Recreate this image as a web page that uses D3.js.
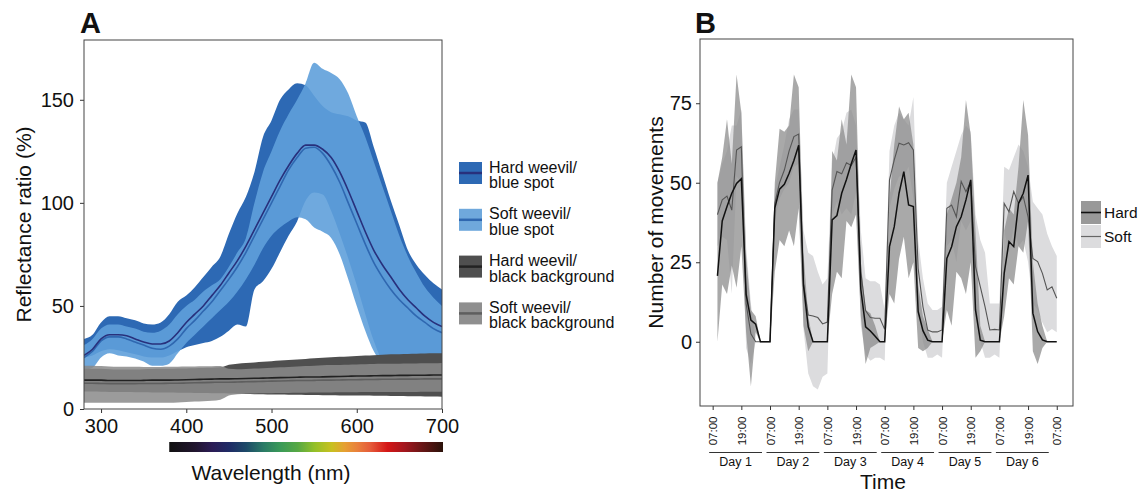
<!DOCTYPE html>
<html>
<head>
<meta charset="utf-8">
<script src="https://cdn.jsdelivr.net/npm/d3@7"></script>
<style>
  body { margin: 0; background: white; }
  text { font-family: "Liberation Sans", Arial, sans-serif; fill: #111; }
</style>
</head>
<body>
<script>
// ---------- panel A data: reflectance ratio (%) every 10 nm ----------
const wavelength = d3.range(280, 701, 10)

const hardBlueMean = [26, 29, 34, 36, 36, 35.5, 34, 32.5, 31.5, 31.5, 33, 37, 42, 46, 50, 55, 60, 66, 72, 79, 87, 95, 103, 111, 118, 124, 128, 128, 126, 122, 115, 106, 96, 86, 77, 70, 64, 58, 53, 49, 45, 42, 40]
const hardBlueHi   = [34, 36, 42, 45, 45, 44, 43, 41.5, 41, 42, 46, 52, 55, 59, 64, 69, 74, 85, 95, 103, 115, 132, 140, 150, 155, 158, 157, 152, 147, 144, 143, 142, 140, 139, 127, 114, 101, 89, 77, 70, 65, 61, 58]
const hardBlueLo   = [25, 26, 28, 29, 28.5, 27.5, 26.5, 25.5, 25, 25, 26, 28, 30, 31, 32, 33, 35, 38, 41, 40, 58, 62, 68, 76, 84, 91, 101, 105, 104, 96, 85, 73, 60, 46, 33, 24, 22, 21, 21, 21, 21, 21, 21]
const softBlueMean = [25, 28, 33, 35, 35, 34, 32.5, 31, 29.5, 29, 30.5, 34, 39, 43, 47.5, 52, 57.5, 63, 69, 76, 84, 92, 100, 108, 116, 122, 126.5, 127, 124, 118, 110, 100, 90, 80, 71, 64, 58, 53, 49, 45, 42, 39, 37]
const softBlueHi   = [31, 34, 39, 41, 41, 40, 39, 37.5, 37, 38, 41, 46, 50, 53, 57, 60, 63, 69, 76, 83, 100, 115, 125, 135, 143, 150, 158, 168, 165, 163, 160, 153, 142, 132, 120, 108, 96, 84, 74, 66, 59, 54, 50]
const softBlueLo   = [19, 20, 25, 27, 26, 25.5, 24.5, 23, 21, 21, 22, 27, 32, 36, 40, 44, 48, 52, 57, 63, 70, 78, 84, 88, 91, 93, 92, 88, 86, 83, 75, 63, 50, 38, 28, 22, 20, 20, 20, 20, 20, 20, 20]

const hardBlackMean = [14, 14, 14, 13.8, 13.8, 13.8, 13.8, 13.9, 14, 14, 14, 14.1, 14.2, 14.3, 14.4, 14.5, 14.6, 14.6, 14.7, 14.8, 14.9, 15, 15.1, 15.2, 15.3, 15.4, 15.5, 15.5, 15.6, 15.7, 15.8, 15.9, 16, 16, 16.1, 16.2, 16.2, 16.3, 16.3, 16.4, 16.4, 16.5, 16.5]
const hardBlackHi   = [19.5, 19.5, 19.5, 19.3, 19.2, 19.2, 19.2, 19.3, 19.4, 19.5, 19.5, 19.6, 19.7, 19.8, 19.9, 20, 20.2, 21.5, 22, 22.3, 22.6, 22.9, 23.2, 23.5, 23.8, 24, 24.3, 24.6, 24.9, 25.1, 25.3, 25.5, 25.7, 25.9, 26.1, 26.3, 26.5, 26.6, 26.7, 26.8, 26.9, 27, 27]
const hardBlackLo   = [8.5, 8.5, 8.4, 8.3, 8.2, 8.2, 8.1, 8.1, 8, 8, 8, 7.9, 7.9, 7.8, 7.8, 7.7, 7.6, 7.5, 7.4, 7.3, 7.2, 7.1, 7, 7, 6.9, 6.9, 6.8, 6.8, 6.7, 6.7, 6.6, 6.6, 6.5, 6.5, 6.4, 6.4, 6.3, 6.3, 6.2, 6.2, 6.1, 6.1, 6]
const softBlackMean = [12.5, 12.5, 12.4, 12.3, 12.3, 12.3, 12.3, 12.4, 12.4, 12.4, 12.5, 12.5, 12.6, 12.7, 12.8, 12.9, 13, 13, 13.1, 13.2, 13.3, 13.4, 13.5, 13.6, 13.7, 13.8, 13.8, 13.9, 14, 14, 14.1, 14.2, 14.2, 14.3, 14.3, 14.4, 14.4, 14.5, 14.5, 14.5, 14.6, 14.6, 14.6]
const softBlackHi   = [21, 21, 20.8, 20.6, 20.5, 20.5, 20.5, 20.4, 20.4, 20.4, 20.5, 20.5, 20.6, 20.6, 20.7, 20.7, 20.8, 19.5, 19.3, 19.4, 19.6, 19.8, 20, 20.2, 20.4, 20.6, 20.8, 21, 21.2, 21.3, 21.4, 21.5, 21.6, 21.7, 21.8, 21.9, 22, 22, 22.1, 22.1, 22.2, 22.2, 22.3]
const softBlackLo   = [3, 3, 3, 3, 3, 3, 3, 3, 3, 3, 3, 3.2, 3.4, 3.6, 3.8, 4, 4.5, 6.5, 7.2, 7.4, 7.5, 7.6, 7.7, 7.8, 7.8, 7.9, 7.9, 8, 8, 8, 8.1, 8.1, 8.1, 8.2, 8.2, 8.2, 8.3, 8.3, 8.3, 8.3, 8.4, 8.4, 8.4]

const legendA = ["Hard weevil/|blue spot", "Soft weevil/|blue spot", "Hard weevil/|black background", "Soft weevil/|black background"]

// ---------- panel B data: movements every 2 h from 09:00 day 1 ----------
const hours = d3.range(2, 145, 2)
const hardMove = [20.7, 38, 42.5, 46.7, 49.8, 51.3, 15, 6.8, 5.5, 0, 0, 0,
                  42, 48, 49.5, 53, 57, 61.8, 17.8, 4.7, 0, 0, 0, 0,
                  38.3, 39.7, 46.7, 51, 56, 60.3, 16.5, 4.7, 3.4, 1.7, 0, 0,
                  29.9, 36.2, 46.7, 53.5, 43, 42.5, 9.5, 3.5, 0.5, 0, 0, 0,
                  26.2, 29.9, 36.2, 39.3, 44.6, 50.9, 10, 0.5, 0, 0, 0, 0,
                  21.5, 31.5, 29.9, 43.5, 46.7, 52.4, 9, 3.2, 0.6, 0, 0, 0]
const hardHi = [50, 58, 70, 56, 84, 72, 27, 10, 8, 0, 0, 0,
                50, 67, 66, 68, 84, 80, 28, 8, 0, 0, 0, 0,
                60, 57, 70, 62, 84, 80, 25, 10, 9, 5, 0, 0,
                45, 62, 74, 70, 72, 62, 18, 8, 4, 0, 0, 0,
                40, 45, 50, 58, 76, 65, 35, 5, 0, 0, 0, 0,
                35, 42, 40, 55, 76, 65, 25, 12, 5, 0, 0, 0]
const hardLo = [0, 18, 15, 24, 17, 30, 3, -14, 3, 0, 0, 0,
                22, 32, 30, 35, 30, 42, 5, -3, 0, 0, 0, 0,
                15, 22, 20, 38, 36, 40, 8, -7, -2, -1, 0, 0,
                15, 12, 26, 33, 20, 25, -2, -3, -2, 0, 0, 0,
                10, 5, 22, 20, 15, 25, -5, -3, 0, 0, 0, 0,
                8, 20, 18, 30, 28, 38, -3, -7, -2, 0, 0, 0]
const softMove = [40, 44.6, 45.8, 41.4, 60.3, 61.3, 12, 2.5, 0, 0, 0, 0,
                  43.5, 50, 54, 60, 64.5, 65.3, 18.3, 8.4, 8.1, 7.6, 5.6, 6.2,
                  47.7, 53.5, 52.8, 56.3, 55.4, 58, 22, 9.8, 7.6, 7.4, 7.4, 3.9,
                  50.9, 57.2, 62.4, 61.9, 62.6, 60.3, 23, 11, 3.7, 3.1, 3.1, 3.7,
                  42, 43, 39.3, 50.4, 47.2, 50.4, 23.6, 17.3, 11, 3.7, 3.9, 3.7,
                  43.5, 40.9, 47.2, 43.5, 45.6, 39.3, 26.2, 25.2, 21.5, 16.3, 17.3, 13.7]
const softHi = [50, 56, 60, 68, 68, 73, 30, 12, 0, 0, 0, 0,
                48, 55, 62, 70, 73, 73, 35, 28, 27, 22, 18, 20,
                56, 64, 66, 72, 73, 68, 35, 20, 19, 19, 18, 10,
                60, 68, 72, 70, 68, 77, 32, 20, 12, 10, 10, 11,
                50, 55, 60, 65, 68, 66, 40, 32, 28, 12, 12, 12,
                55, 54, 58, 62, 60, 55, 44, 42, 40, 34, 30, 27]
const softLo = [30, 33, 32, 15, 52, 50, -2, -7, 0, 0, 0, 0,
                38, 45, 48, 50, 55, 56, 4, -10, -14, -15, -11, -10,
                40, 44, 40, 42, 40, 47, 5, -4, -6, -5, -5, -6,
                42, 48, 52, 52, 55, 45, 12, 0, -5, -5, -4, -5,
                30, 32, 25, 38, 35, 38, 8, 0, -5, -5, -4, -5,
                35, 28, 36, 30, 32, 25, 12, 10, 6, 3, 4, 3]

const tickHours = d3.range(0, 145, 12)
const dayNames = ["Day 1", "Day 2", "Day 3", "Day 4", "Day 5", "Day 6"]
const legendB = ["Hard", "Soft"]

//svg
let svg = d3.select("body")
    .append("svg")
    .attr("width", 1141)
    .attr("height", 493)

//================ panel A ================
let xA = d3.scaleLinear().domain([280, 700]).range([84, 442])
let yA = d3.scaleLinear().domain([0, 179]).range([409, 40])

svg.append("clipPath").attr("id", "clipA")
    .append("rect").attr("x", 84).attr("y", 40).attr("width", 358).attr("height", 369)

let plotA = svg.append("g").attr("clip-path", "url(#clipA)")

function bandA(lo, hi) {
  return d3.area()
    .x((d, i) => xA(wavelength[i]))
    .y0((d, i) => yA(lo[i]))
    .y1((d, i) => yA(hi[i]))
    .curve(d3.curveMonotoneX)(wavelength)
}
function lineA(vals) {
  return d3.line()
    .x((d, i) => xA(wavelength[i]))
    .y(d => yA(d))
    .curve(d3.curveMonotoneX)(vals)
}

plotA.append("path").attr("d", bandA(hardBlueLo, hardBlueHi)).attr("fill", "#2d69b4")
plotA.append("path").attr("d", bandA(softBlueLo, softBlueHi)).attr("fill", "#5fa0da").attr("fill-opacity", 0.9)
plotA.append("path").attr("d", bandA(hardBlackLo, hardBlackHi)).attr("fill", "#4f4f4f")
plotA.append("path").attr("d", bandA(softBlackLo, softBlackHi)).attr("fill", "#8a8a8a").attr("fill-opacity", 0.85)

plotA.append("path").attr("d", lineA(softBlueMean)).attr("fill", "none").attr("stroke", "#2f67b0").attr("stroke-width", 1.6)
plotA.append("path").attr("d", lineA(hardBlueMean)).attr("fill", "none").attr("stroke", "#28307c").attr("stroke-width", 1.6)
plotA.append("path").attr("d", lineA(softBlackMean)).attr("fill", "none").attr("stroke", "#5e5e5e").attr("stroke-width", 1.6)
plotA.append("path").attr("d", lineA(hardBlackMean)).attr("fill", "none").attr("stroke", "#222").attr("stroke-width", 1.6)

//axes A
let yAxisA = svg.append("g")
    .attr("transform", "translate(84,0)")
    .call(d3.axisLeft(yA).tickValues([0, 50, 100, 150]).tickSize(4).tickPadding(6))
let xAxisA = svg.append("g")
    .attr("transform", "translate(0,409)")
    .call(d3.axisBottom(xA).tickValues([300, 400, 500, 600, 700]).tickSize(4).tickPadding(6))

svg.append("rect")
    .attr("x", 84).attr("y", 40).attr("width", 358).attr("height", 369)
    .attr("fill", "none").attr("stroke", "#444").attr("stroke-width", 1)

svg.append("text").attr("x", 80).attr("y", 33)
    .style("font-size", "29px").style("font-weight", "bold").text("A")

svg.append("text")
    .attr("transform", `translate(31,${(40 + 409) / 2}) rotate(-90)`)
    .attr("text-anchor", "middle")
    .style("font-size", "21px")
    .text("Reflectance ratio (%)")

//spectrum bar
let grad = svg.append("defs").append("linearGradient").attr("id", "spectrum")
let stops = [[380, "#111111"], [410, "#21152e"], [430, "#2b1c55"], [450, "#1f2b66"], [470, "#1d4a68"], [490, "#2a7a66"], [510, "#3a9a58"], [530, "#56a844"], [550, "#94c028"], [570, "#c8c020"], [585, "#e6a032"], [600, "#e9803c"], [615, "#e55c3a"], [635, "#d41616"], [655, "#a3161e"], [675, "#6a1616"], [700, "#2a120a"]]
grad.selectAll("stop").data(stops).enter().append("stop")
    .attr("offset", d => ((d[0] - 380) / 320 * 100) + "%")
    .attr("stop-color", d => d[1])
svg.append("rect")
    .attr("x", xA(380)).attr("y", 442).attr("width", xA(700) - xA(380) + 1).attr("height", 10)
    .attr("fill", "url(#spectrum)")

svg.append("text").attr("x", 271).attr("y", 480)
    .attr("text-anchor", "middle").style("font-size", "21px").text("Wavelength (nm)")

//legend A
let legFill = ["#2d69b4", "#6fa8dc", "#4f4f4f", "#8f8f8f"]
let legLine = ["#28307c", "#2f67b0", "#222", "#5e5e5e"]
legendA.forEach(function (name, i) {
  let top = 162 + i * 46.8
  svg.append("rect").attr("x", 459).attr("y", top).attr("width", 23).attr("height", 22).attr("fill", legFill[i])
  svg.append("line").attr("x1", 459).attr("x2", 482).attr("y1", top + 11).attr("y2", top + 11)
      .attr("stroke", legLine[i]).attr("stroke-width", 2.5)
  let t = svg.append("text").attr("x", 489).attr("y", top + 10.5).style("font-size", "16px")
  name.split("|").forEach(function (part, j) {
    t.append("tspan").attr("x", 489).attr("dy", j == 0 ? 0 : 15.5).text(part)
  })
})

//================ panel B ================
let xB = d3.scaleLinear().domain([-5.3, 150.8]).range([700, 1073])
let yB = d3.scaleLinear().domain([-20.2, 95.2]).range([406, 39])

function bandB(lo, hi) {
  return d3.area()
    .x((d, i) => xB(hours[i]))
    .y0((d, i) => yB(lo[i]))
    .y1((d, i) => yB(hi[i]))(hours)
}
function lineB(vals) {
  return d3.line()
    .x((d, i) => xB(hours[i]))
    .y(d => yB(d))(vals)
}

svg.append("path").attr("d", bandB(softLo, softHi)).attr("fill", "#dcdcde")
svg.append("path").attr("d", bandB(hardLo, hardHi)).attr("fill", "#8c8c8c").attr("fill-opacity", 0.75)
svg.append("path").attr("d", lineB(softMove)).attr("fill", "none").attr("stroke", "#555").attr("stroke-width", 1.1)
svg.append("path").attr("d", lineB(hardMove)).attr("fill", "none").attr("stroke", "#111").attr("stroke-width", 1.5)

svg.append("rect")
    .attr("x", 700).attr("y", 39).attr("width", 373).attr("height", 367)
    .attr("fill", "none").attr("stroke", "#444").attr("stroke-width", 1)

let yAxisB = svg.append("g")
    .attr("transform", "translate(700,0)")
    .call(d3.axisLeft(yB).tickValues([0, 25, 50, 75]).tickSize(4).tickPadding(4))

let xAxisB = svg.append("g")
    .attr("transform", "translate(0,406)")
    .call(d3.axisBottom(xB).tickValues(tickHours).tickSize(4)
      .tickFormat(h => h % 24 == 0 ? "07:00" : "19:00"))

xAxisB.selectAll("text")
    .attr("y", 0).attr("x", -10.5).attr("dy", "0.35em")
    .attr("transform", "rotate(-90)")
    .style("text-anchor", "end")
    .style("font-size", "11.5px")

//day brackets
dayNames.forEach(function (name, i) {
  let x1 = xB(i * 24) - 3.5
  let x2 = xB((i + 1) * 24) - 8
  svg.append("line").attr("x1", x1).attr("x2", x2).attr("y1", 452.5).attr("y2", 452.5)
      .attr("stroke", "#333").attr("stroke-width", 1)
  svg.append("text").attr("x", (x1 + x2) / 2).attr("y", 466)
      .attr("text-anchor", "middle").style("font-size", "12.5px").text(name)
})

svg.append("text").attr("x", 883).attr("y", 489)
    .attr("text-anchor", "middle").style("font-size", "21px").text("Time")

svg.append("text")
    .attr("transform", `translate(663,${(39 + 406) / 2}) rotate(-90)`)
    .attr("text-anchor", "middle")
    .style("font-size", "21px")
    .text("Number of movements")

svg.append("text").attr("x", 695).attr("y", 33)
    .style("font-size", "29px").style("font-weight", "bold").text("B")

//legend B
let legFillB = ["#999999", "#dcdcde"]
let legLineB = ["#111", "#666"]
legendB.forEach(function (name, i) {
  let top = 201 + i * 24
  svg.append("rect").attr("x", 1081).attr("y", top).attr("width", 20).attr("height", 23).attr("fill", legFillB[i])
  svg.append("line").attr("x1", 1081).attr("x2", 1101).attr("y1", top + 11.5).attr("y2", top + 11.5)
      .attr("stroke", legLineB[i]).attr("stroke-width", i == 0 ? 1.6 : 1.2)
  svg.append("text").attr("x", 1104).attr("y", top + 17).style("font-size", "15.5px").text(name)
})

//axis styling
svg.selectAll(".domain").remove()
svg.selectAll(".tick line").attr("stroke", "#333")
yAxisA.selectAll("text").style("font-size", "20px")
xAxisA.selectAll("text").style("font-size", "20px")
yAxisB.selectAll("text").style("font-size", "20px")
</script>
</body>
</html>
